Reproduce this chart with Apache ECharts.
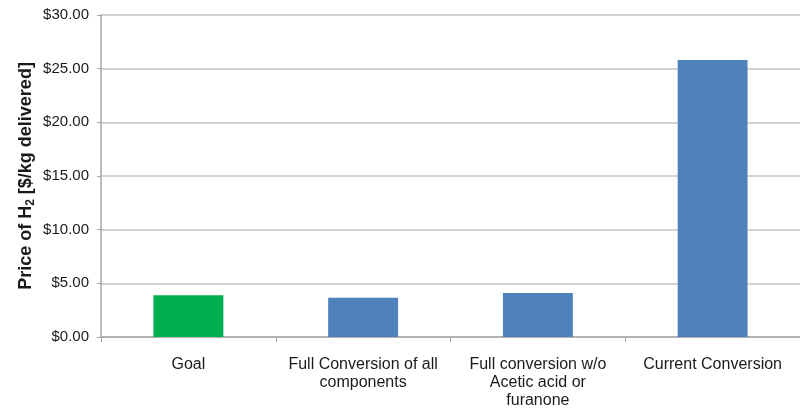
<!DOCTYPE html>
<html>
<head>
<meta charset="utf-8">
<script src="https://cdn.jsdelivr.net/npm/echarts@6/dist/echarts.min.js"></script>
<style>
  html, body { margin: 0; padding: 0; background: #fff; }
  #main { width: 800px; height: 411px; }
</style>
</head>
<body>
<div id="main"></div>
<script>
// 数据
var categories = [
    'Goal',
    'Full Conversion of all\ncomponents',
    'Full conversion w/o\nAcetic acid or\nfuranone',
    'Current Conversion'
];
var prices = [3.9, 3.65, 4.1, 25.8];
var yTicks = [0, 5, 10, 15, 20, 25, 30];

var myChart = echarts.init(document.getElementById('main'));

var option = {
    animation: false,
    textStyle: { fontFamily: 'Liberation Sans, Arial, sans-serif' },
    grid: { left: 101, right: 0, top: 15, bottom: 74 },
    xAxis: {
        type: 'category',
        data: categories,
        axisLine: { lineStyle: { color: '#a6a6a6', width: 1.5 } },
        axisTick: { show: true, length: 5, lineStyle: { color: '#a6a6a6' } },
        axisLabel: {
            interval: 0,
            fontSize: 16,
            lineHeight: 18,
            color: '#1a1a1a',
            margin: 19
        }
    },
    yAxis: {
        type: 'value',
        min: yTicks[0],
        max: yTicks[yTicks.length - 1],
        interval: 5,
        name: '{a|Price of H}{b|2}{a| [$/kg delivered]}',
        nameLocation: 'middle',
        nameMoveOverlap: false,
        nameGap: 64,
        nameTextStyle: {
            rich: {
                a: { fontSize: 18, fontWeight: 'bold', color: '#1a1a1a', lineHeight: 22, verticalAlign: 'middle' },
                b: { fontSize: 12, fontWeight: 'bold', color: '#1a1a1a', lineHeight: 12, verticalAlign: 'bottom' }
            }
        },
        axisLine: { show: true, lineStyle: { color: '#a6a6a6', width: 1.5 } },
        axisTick: { show: true, length: 4, lineStyle: { color: '#a6a6a6' } },
        splitLine: { lineStyle: { color: '#c4c4c4', width: 1.5 } },
        axisLabel: {
            fontSize: 15,
            color: '#1a1a1a',
            margin: 12,
            formatter: function (v) { return '$' + v.toFixed(2); }
        }
    },
    series: [{
        type: 'bar',
        data: prices,
        barWidth: '40%',
        itemStyle: {
            color: function (p) { return p.dataIndex === 0 ? '#00b050' : '#4f81bd'; }
        }
    }]
};

myChart.setOption(option);
</script>
</body>
</html>
